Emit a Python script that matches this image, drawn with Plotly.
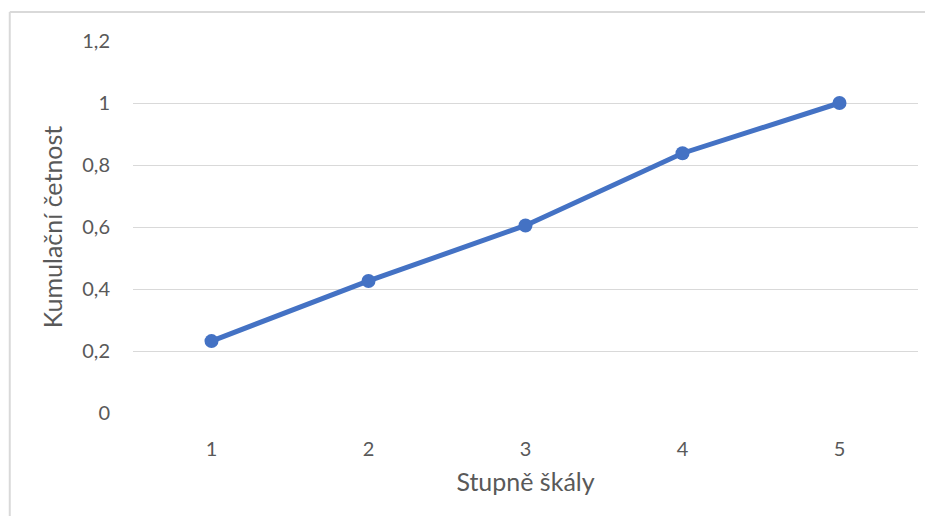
import plotly.graph_objects as go

# Stupně škály vs. kumulační četnost
stupne = [1, 2, 3, 4, 5]
kumulacni_cetnost = [0.232, 0.426, 0.605, 0.838, 1.0]
y_ticks = [0, 0.2, 0.4, 0.6, 0.8, 1.0, 1.2]
y_tick_labels = ["0", "0,2", "0,4", "0,6", "0,8", "1", "1,2"]

textCol = "#595959"
fnt = "Lato"
frameCol = "#d9d9d9"

fig = go.Figure()
fig.add_trace(go.Scatter(
    x=stupne,
    y=kumulacni_cetnost,
    mode="lines+markers",
    line=dict(color="#4472C4", width=5),
    marker=dict(color="#4472C4", size=14),
    showlegend=False,
))

# page body has an 8px margin, so the figure is sized/margined to compensate
# (kept small enough that the page does not overflow the window)
fig.update_layout(
    width=917,
    height=508,
    margin=dict(l=125, r=7, t=33, b=103),
    plot_bgcolor="white",
    paper_bgcolor="white",
    font=dict(family=fnt, color=textCol, size=20),
    xaxis=dict(
        range=[0.5, 5.5],
        tickvals=stupne,
        showgrid=False,
        zeroline=False,
        showline=False,
        ticks="",
        ticklabelstandoff=22,
        title=dict(text="Stupně škály", standoff=14, font=dict(size=25)),
    ),
    yaxis=dict(
        range=[0, 1.2],
        tickvals=y_ticks,
        ticktext=y_tick_labels,
        showgrid=True,
        gridcolor="#d9d9d9",
        gridwidth=1,
        zeroline=False,
        ticks="",
        ticklabelstandoff=22,
        title=dict(text="Kumulační četnost", standoff=12, font=dict(size=25)),
    ),
    # outer chart frame: only top and left edges are in view in the original
    shapes=[
        dict(type="line", xref="paper", yref="paper",
             x0=-0.157, x1=1.05, y0=1.078, y1=1.078,
             line=dict(color=frameCol, width=2), layer="below"),
        dict(type="line", xref="paper", yref="paper",
             x0=-0.157, x1=-0.157, y0=-0.35, y1=1.078,
             line=dict(color=frameCol, width=2), layer="below"),
    ],
)

fig.write_html("out.html")
